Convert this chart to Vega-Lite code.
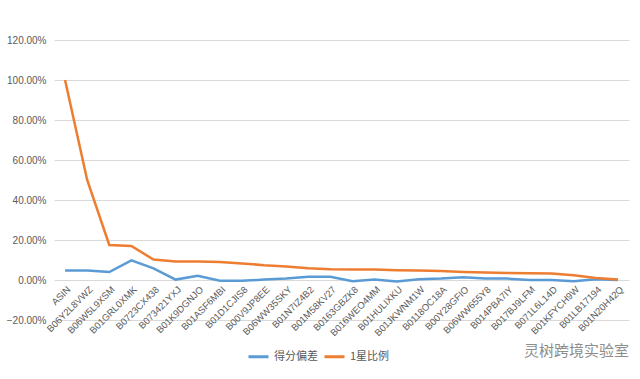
{
  "$schema": "https://vega.github.io/schema/vega-lite/v6.json",
  "width": 575,
  "height": 280,
  "padding": {"left": 6, "top": 35, "right": 7, "bottom": 0},
  "background": "#ffffff",
  "title": {
    "text": "灵树跨境实验室",
    "orient": "bottom",
    "anchor": "end",
    "font": "Noto Sans CJK SC",
    "fontSize": 15,
    "fontWeight": "normal",
    "color": "#8c8c8c",
    "offset": -19
  },
  "config": {
    "view": {"stroke": null},
    "font": "Liberation Sans",
    "axis": {"labelColor": "#595959", "labelFont": "Liberation Sans", "labelFontSize": 10}
  },
  "data": {
    "values": [
      {"cat": "ASIN", "series": "得分偏差", "v": 0.048},
      {"cat": "B06Y2L8VWZ", "series": "得分偏差", "v": 0.048},
      {"cat": "B06W5L9XSM", "series": "得分偏差", "v": 0.040},
      {"cat": "B01GRL0XMK", "series": "得分偏差", "v": 0.098},
      {"cat": "B0723CX438", "series": "得分偏差", "v": 0.058},
      {"cat": "B073421YXJ", "series": "得分偏差", "v": 0.002},
      {"cat": "B01K9DGNJO", "series": "得分偏差", "v": 0.021},
      {"cat": "B01ASF6MBI", "series": "得分偏差", "v": -0.004},
      {"cat": "B01D1CJIS8", "series": "得分偏差", "v": -0.004},
      {"cat": "B00V9JP8EE", "series": "得分偏差", "v": 0.002},
      {"cat": "B06WW35SKY", "series": "得分偏差", "v": 0.007},
      {"cat": "B01N7IZ4B2", "series": "得分偏差", "v": 0.016},
      {"cat": "B01M58KV27", "series": "得分偏差", "v": 0.016},
      {"cat": "B0163GBZK8", "series": "得分偏差", "v": -0.006},
      {"cat": "B016WEO4MM", "series": "得分偏差", "v": 0.003},
      {"cat": "B01HULIXKU", "series": "得分偏差", "v": -0.008},
      {"cat": "B01JKWNM1W", "series": "得分偏差", "v": 0.004},
      {"cat": "B0118OC18A", "series": "得分偏差", "v": 0.007},
      {"cat": "B00Y28GFIO", "series": "得分偏差", "v": 0.014},
      {"cat": "B06WW655Y8", "series": "得分偏差", "v": 0.007},
      {"cat": "B014PBA7IY", "series": "得分偏差", "v": 0.007},
      {"cat": "B017BJ9LFM", "series": "得分偏差", "v": 0.0},
      {"cat": "B071L6L14D", "series": "得分偏差", "v": 0.0},
      {"cat": "B01KFYCH9W", "series": "得分偏差", "v": -0.006},
      {"cat": "B01LB17194", "series": "得分偏差", "v": 0.004},
      {"cat": "B01N20H42Q", "series": "得分偏差", "v": 0.0},
      {"cat": "ASIN", "series": "1星比例", "v": 1.0},
      {"cat": "B06Y2L8VWZ", "series": "1星比例", "v": 0.50},
      {"cat": "B06W5L9XSM", "series": "1星比例", "v": 0.175},
      {"cat": "B01GRL0XMK", "series": "1星比例", "v": 0.170},
      {"cat": "B0723CX438", "series": "1星比例", "v": 0.102},
      {"cat": "B073421YXJ", "series": "1星比例", "v": 0.093},
      {"cat": "B01K9DGNJO", "series": "1星比例", "v": 0.092},
      {"cat": "B01ASF6MBI", "series": "1星比例", "v": 0.090},
      {"cat": "B01D1CJIS8", "series": "1星比例", "v": 0.083},
      {"cat": "B00V9JP8EE", "series": "1星比例", "v": 0.074},
      {"cat": "B06WW35SKY", "series": "1星比例", "v": 0.068},
      {"cat": "B01N7IZ4B2", "series": "1星比例", "v": 0.059},
      {"cat": "B01M58KV27", "series": "1星比例", "v": 0.054},
      {"cat": "B0163GBZK8", "series": "1星比例", "v": 0.053},
      {"cat": "B016WEO4MM", "series": "1星比例", "v": 0.052},
      {"cat": "B01HULIXKU", "series": "1星比例", "v": 0.049},
      {"cat": "B01JKWNM1W", "series": "1星比例", "v": 0.047},
      {"cat": "B0118OC18A", "series": "1星比例", "v": 0.045},
      {"cat": "B00Y28GFIO", "series": "1星比例", "v": 0.040},
      {"cat": "B06WW655Y8", "series": "1星比例", "v": 0.037},
      {"cat": "B014PBA7IY", "series": "1星比例", "v": 0.035},
      {"cat": "B017BJ9LFM", "series": "1星比例", "v": 0.034},
      {"cat": "B071L6L14D", "series": "1星比例", "v": 0.032},
      {"cat": "B01KFYCH9W", "series": "1星比例", "v": 0.024},
      {"cat": "B01LB17194", "series": "1星比例", "v": 0.010},
      {"cat": "B01N20H42Q", "series": "1星比例", "v": 0.002}
    ]
  },
  "mark": {"type": "line", "strokeWidth": 2.5},
  "encoding": {
    "x": {
      "field": "cat",
      "type": "nominal",
      "sort": null,
      "scale": {"padding": 0.5},
      "axis": {
        "title": null,
        "labelAngle": -45,
        "domain": false,
        "ticks": false,
        "grid": false,
        "offset": -40,
        "labelPadding": 4,
        "labelFontSize": 9.5
      }
    },
    "y": {
      "field": "v",
      "type": "quantitative",
      "scale": {"domain": [-0.2, 1.2], "nice": false},
      "axis": {
        "title": null,
        "format": ".2%",
        "values": [-0.2, 0, 0.2, 0.4, 0.6, 0.8, 1.0, 1.2],
        "domain": false,
        "ticks": false,
        "gridColor": "#d9d9d9",
        "gridWidth": 1,
        "labelPadding": 8
      }
    },
    "color": {
      "field": "series",
      "type": "nominal",
      "scale": {"domain": ["得分偏差", "1星比例"], "range": ["#5B9BD5", "#ED7D31"]},
      "legend": {
        "title": null,
        "orient": "none",
        "legendX": 193,
        "legendY": 305,
        "direction": "horizontal",
        "symbolType": "stroke",
        "symbolStrokeWidth": 3,
        "symbolSize": 400,
        "columnPadding": 0,
        "labelOffset": 4,
        "labelFont": "Noto Sans CJK SC",
        "labelFontSize": 11,
        "labelColor": "#595959"
      }
    }
  }
}
